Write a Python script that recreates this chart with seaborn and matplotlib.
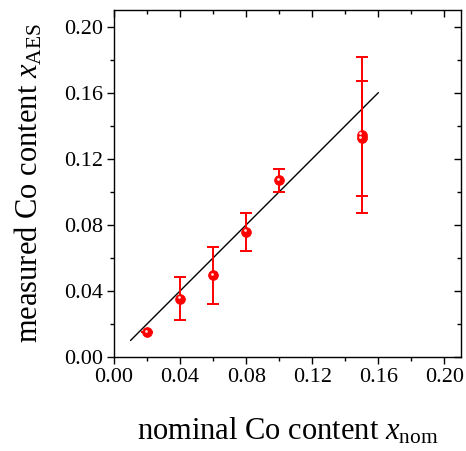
from matplotlib import pyplot as plt
from matplotlib import transforms
from matplotlib.ticker import MultipleLocator, FormatStrFormatter
import seaborn as sns
import pandas as pd

x_nom = [0.02, 0.04, 0.06, 0.08, 0.10, 0.15, 0.15]
x_aes = [0.015, 0.0352, 0.0495, 0.0756, 0.1069, 0.1343, 0.1323]
x_err = [0.0, 0.013, 0.0173, 0.0116, 0.0068, 0.0474, 0.035]

fit_x = [0.01, 0.16]
fit_y = [0.01, 0.16]

df = pd.DataFrame({'x_nom': x_nom, 'x_aes': x_aes, 'err': x_err})
fit = pd.DataFrame({'x': fit_x, 'y': fit_y})

sns.set_style('ticks')
plt.rcParams['font.family'] = ['Liberation Serif', 'DejaVu Serif']
plt.rcParams['mathtext.fontset'] = 'custom'
plt.rcParams['mathtext.rm'] = 'Liberation Serif'
plt.rcParams['mathtext.it'] = 'Liberation Serif:italic'
plt.rcParams['text.color'] = 'black'
plt.rcParams['axes.labelcolor'] = 'black'
plt.rcParams['xtick.color'] = 'black'
plt.rcParams['ytick.color'] = 'black'

fig = plt.figure(figsize=(4.66, 4.51), dpi=100)
ax = fig.add_axes([0.2446, 0.2084, 0.9893 - 0.2446, 0.9778 - 0.2084])

sns.lineplot(data=fit, x='x', y='y', ax=ax, color='black', linewidth=1.0)
ax.errorbar(df['x_nom'], df['x_aes'], yerr=df['err'], fmt='none', ecolor='red',
            elinewidth=1.4, capsize=4.5, capthick=1.4, zorder=3)
sns.scatterplot(data=df, x='x_nom', y='x_aes', ax=ax, color='red', s=50,
                edgecolor='red', linewidth=0.5, zorder=4)
# small highlight on each ball
hl = transforms.offset_copy(ax.transData, fig=fig, x=-1.0, y=1.2, units='points')
ax.scatter(df['x_nom'], df['x_aes'], s=4, color='#ffe0e0', linewidths=0,
           transform=hl, zorder=5)

ax.set_xlim(0, 0.21)
ax.set_ylim(0, 0.21)
for axis in (ax.xaxis, ax.yaxis):
    axis.set_major_locator(MultipleLocator(0.04))
    axis.set_minor_locator(MultipleLocator(0.02))
    axis.set_major_formatter(FormatStrFormatter('%.2f'))

for side in ['left', 'right', 'top', 'bottom']:
    ax.spines[side].set_visible(True)
    ax.spines[side].set_linewidth(1.0)
    ax.spines[side].set_color('black')

ax.tick_params(which='both', direction='out', left=True, bottom=True,
               top=False, right=False, labelsize=16, width=1.0, pad=3)
ax.tick_params(which='major', length=5)
ax.tick_params(which='minor', length=3)

# inward ticks on the top and right spines
sec_x = ax.secondary_xaxis('top')
sec_y = ax.secondary_yaxis('right')
sec_x.xaxis.set_major_locator(MultipleLocator(0.04))
sec_x.xaxis.set_minor_locator(MultipleLocator(0.02))
sec_y.yaxis.set_major_locator(MultipleLocator(0.04))
sec_y.yaxis.set_minor_locator(MultipleLocator(0.02))
sec_x.tick_params(which='both', direction='in', labeltop=False, width=1.0)
sec_y.tick_params(which='both', direction='in', labelright=False, width=1.0)
for sec in (sec_x, sec_y):
    sec.tick_params(which='major', length=5)
    sec.tick_params(which='minor', length=3)
sec_x.spines['top'].set_visible(False)
sec_y.spines['right'].set_visible(False)

ax.set_xlabel(r'nominal Co content $\mathit{x}_{\mathrm{nom}}$', fontsize=22, labelpad=21)
ax.set_ylabel(r'measured Co content $\mathit{x}_{\mathrm{AES}}$', fontsize=22, labelpad=14)

fig.savefig('out.png', dpi=100)
